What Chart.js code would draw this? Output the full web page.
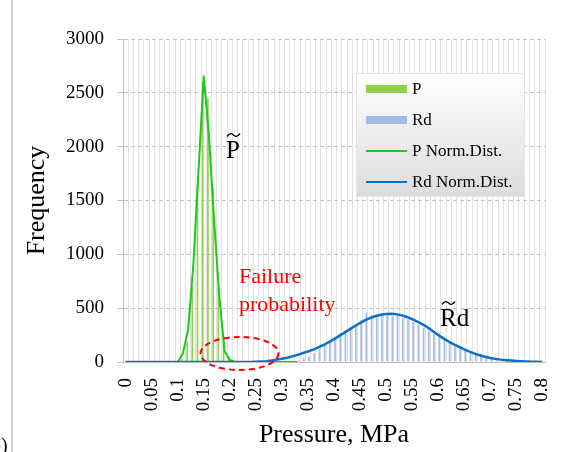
<!DOCTYPE html>
<html>
<head>
<meta charset="utf-8">
<script src="https://cdn.jsdelivr.net/npm/chart.js@4.4.1/dist/chart.umd.min.js"></script>
<style>
  html, body { margin: 0; padding: 0; background: #fff; }
  #pressureChart { display: block; }
</style>
</head>
<body>
<canvas id="pressureChart" width="571" height="452"></canvas>
<script>
// pressure bins, MPa
const categories = [
  '0', '0.01', '0.02', '0.03', '0.04', '0.05', '0.06', '0.07', '0.08', '0.09',
  '0.1', '0.11', '0.12', '0.13', '0.14', '0.15', '0.16', '0.17', '0.18', '0.19',
  '0.2', '0.21', '0.22', '0.23', '0.24', '0.25', '0.26', '0.27', '0.28', '0.29',
  '0.3', '0.31', '0.32', '0.33', '0.34', '0.35', '0.36', '0.37', '0.38', '0.39',
  '0.4', '0.41', '0.42', '0.43', '0.44', '0.45', '0.46', '0.47', '0.48', '0.49',
  '0.5', '0.51', '0.52', '0.53', '0.54', '0.55', '0.56', '0.57', '0.58', '0.59',
  '0.6', '0.61', '0.62', '0.63', '0.64', '0.65', '0.66', '0.67', '0.68', '0.69',
  '0.7', '0.71', '0.72', '0.73', '0.74', '0.75', '0.76', '0.77', '0.78', '0.79',
  '0.8'
];

// only these get a label on the x axis
const tickLabels = ['0', '0.05', '0.1', '0.15', '0.2', '0.25', '0.3', '0.35', '0.4',
  '0.45', '0.5', '0.55', '0.6', '0.65', '0.7', '0.75', '0.8'];

const pBars = [
  0, 0, 0, 0, 0, 0, 0, 0, 0, 0,
  0, 30, 190, 700, 1660, 2600, 2450, 1620, 700, 200,
  30, 0, 0, 0, 0, 0, 0, 0, 0, 0,
  0, 0, 0, 0, 0, 0, 0, 0, 0, 0,
  0, 0, 0, 0, 0, 0, 0, 0, 0, 0,
  0, 0, 0, 0, 0, 0, 0, 0, 0, 0,
  0, 0, 0, 0, 0, 0, 0, 0, 0, 0,
  0, 0, 0, 0, 0, 0, 0, 0, 0, 0,
  0
];

const rdBars = [
  0, 0, 0, 0, 0, 0, 0, 0, 0, 0,
  0, 0, 0, 0, 0, 0, 0, 0, 0, 0,
  0, 0, 0, 0, 0, 0, 0, 0, 0, 0,
  5, 8, 12, 19, 34, 49, 86, 118, 158, 189,
  211, 266, 282, 322, 344, 390, 458, 440, 437, 440,
  432, 425, 427, 410, 395, 372, 345, 318, 290, 262,
  266, 220, 189, 158, 127, 111, 86, 74, 65, 49,
  43, 34, 28, 25, 19, 12, 9, 6, 3, 0,
  0
];

const pNorm = [
  0, 0, 0, 0, 0, 0, 0, 0, 0, 0,
  0, 80, 300, 900, 1780, 2660, 2100, 1300, 600, 100,
  20, 0, 0, 0, 0, 0, 0, 0, 0, 0,
  0, 0, 0, 0, null, null, null, null, null, null,
  null, null, null, null, null, null, null, null, null, null,
  null, null, null, null, null, null, null, null, null, null,
  null, null, null, null, null, null, null, null, null, null,
  null, null, null, null, null, null, null, null, null, null,
  null
];

const rdNorm = [
  0, 0, 0, 0, 0, 0, 0, 0, 0, 0,
  0, 0, 0, 0, 0, 0, 0, 0, 0, 0,
  0, 0, 0, 0, 0, 3, 5, 8, 14, 22,
  30, 40, 52, 66, 82, 98, 115, 135, 158, 185,
  213, 243, 273, 303, 334, 362, 388, 410, 427, 439,
  446, 447, 443, 433, 418, 399, 376, 350, 320, 285,
  250, 220, 190, 163, 140, 117, 96, 78, 62, 48,
  37, 29, 22, 17, 13, 10, 7, 5, 3, 2,
  1
];

const yTicks = [0, 500, 1000, 1500, 2000, 2500, 3000];

const SERIF = "'Liberation Serif', 'Times New Roman', serif";

// legend box drawn inside the plot, like the spreadsheet one
const insideLegend = {
  id: 'insideLegend',
  afterDraw(chart) {
    const ctx = chart.ctx;
    const x0 = 356, y0 = 73, w = 169, h = 124;
    ctx.save();
    const grad = ctx.createLinearGradient(0, y0, 0, y0 + h);
    grad.addColorStop(0, '#ffffff');
    grad.addColorStop(1, '#dcdcdc');
    ctx.fillStyle = grad;
    ctx.fillRect(x0, y0, w, h);
    ctx.strokeStyle = '#e4e4e4';
    ctx.lineWidth = 1;
    ctx.strokeRect(x0 + 0.5, y0 + 0.5, w - 1, h - 1);

    const rows = [1, 3, 2, 0]; // P, Rd, P line, Rd line (dataset index)
    ctx.font = '17px ' + SERIF;
    ctx.textBaseline = 'middle';
    rows.forEach((di, i) => {
      const ds = chart.data.datasets[di];
      const cy = y0 + 16 + i * 31;
      if (ds.type === 'bar') {
        ctx.fillStyle = ds.backgroundColor;
        ctx.fillRect(366, cy - 4, 41, 8);
      } else {
        ctx.strokeStyle = ds.borderColor;
        ctx.lineWidth = 2;
        ctx.beginPath();
        ctx.moveTo(366, cy);
        ctx.lineTo(407, cy);
        ctx.stroke();
      }
      ctx.fillStyle = '#000';
      ctx.fillText(ds.label, 412, cy + 1);
    });
    ctx.restore();
  }
};

function tilde(ctx, x, y, w) {
  ctx.beginPath();
  ctx.moveTo(x, y + 1.5);
  ctx.bezierCurveTo(x + w * 0.25, y - 3, x + w * 0.4, y - 1, x + w * 0.5, y);
  ctx.bezierCurveTo(x + w * 0.6, y + 1, x + w * 0.75, y + 3, x + w, y - 1.5);
  ctx.stroke();
}

// tilde labels, the failure note and its dashed ellipse
const notes = {
  id: 'notes',
  afterDraw(chart) {
    const ctx = chart.ctx;
    ctx.save();
    ctx.fillStyle = '#000';
    ctx.strokeStyle = '#000';
    ctx.lineWidth = 1.3;
    ctx.textBaseline = 'alphabetic';
    ctx.font = '25px ' + SERIF;
    ctx.fillText('P', 226, 158);
    tilde(ctx, 227, 135, 13);
    ctx.fillText('Rd', 440, 326);
    tilde(ctx, 442, 303, 13);

    ctx.fillStyle = '#ff0000';
    ctx.font = '22px ' + SERIF;
    ctx.fillText('Failure', 239, 283);
    ctx.fillText('probability', 239, 311);

    ctx.strokeStyle = '#ff0000';
    ctx.lineWidth = 2;
    ctx.setLineDash([6, 4]);
    ctx.beginPath();
    ctx.ellipse(239.5, 353.5, 39, 16.5, 0, 0, Math.PI * 2);
    ctx.stroke();
    ctx.setLineDash([]);

    // frame edge and the cut "b)" label at the left
    ctx.strokeStyle = '#d0d0d0';
    ctx.lineWidth = 2;
    ctx.beginPath();
    ctx.moveTo(12, 0);
    ctx.lineTo(12, 452);
    ctx.stroke();
    ctx.fillStyle = '#000';
    ctx.font = '20px ' + SERIF;
    ctx.fillText('b)', -9, 452);
    ctx.restore();
  }
};

document.addEventListener('DOMContentLoaded', () => {
  try {
    const ctx = document.getElementById('pressureChart')?.getContext('2d');
    if (!ctx) throw new Error('Chart canvas not found.');

    new Chart(ctx, {
      data: {
        labels: categories,
        datasets: [
          {
            type: 'line',
            label: 'Rd Norm.Dist.',
            data: rdNorm,
            borderColor: '#0a70c8',
            borderWidth: 2.5,
            pointRadius: 0,
            tension: 0,
            order: 0
          },
          {
            type: 'bar',
            label: 'P',
            data: pBars,
            backgroundColor: '#92d050',
            categoryPercentage: 0.8,
            barPercentage: 0.8,
            order: 2
          },
          {
            type: 'line',
            label: 'P Norm.Dist.',
            data: pNorm,
            borderColor: '#1ec81e',
            borderWidth: 2,
            pointRadius: 0,
            tension: 0,
            order: 1
          },
          {
            type: 'bar',
            label: 'Rd',
            data: rdBars,
            backgroundColor: '#a3bbe6',
            categoryPercentage: 0.8,
            barPercentage: 0.8,
            order: 3
          }
        ]
      },
      options: {
        responsive: false,
        animation: false,
        devicePixelRatio: 1,
        layout: { padding: { left: 14, right: 26, top: 39, bottom: 0 } },
        plugins: {
          legend: { display: false },
          tooltip: { enabled: false }
        },
        scales: {
          x: {
            type: 'category',
            offset: true,
            grid: {
              display: true,
              offset: true,
              color: '#e2e2e2',
              lineWidth: 1,
              drawTicks: false
            },
            border: { display: true, color: '#bfbfbf', width: 1 },
            ticks: {
              autoSkip: false,
              minRotation: 90,
              maxRotation: 90,
              padding: 16,
              color: '#000',
              font: { family: SERIF, size: 19 },
              callback(value) {
                const lab = categories[value];
                return tickLabels.includes(lab) ? lab : '';
              }
            },
            title: {
              display: true,
              text: 'Pressure, MPa',
              color: '#000',
              font: { family: SERIF, size: 26 },
              padding: { top: 0, bottom: 1 }
            },
            afterFit(scale) {
              scale.height = 90;
              // keep the plot width of the original
              scale.paddingLeft = 0;
              scale.paddingRight = 0;
            }
          },
          y: {
            min: 0,
            max: 3000,
            afterBuildTicks(scale) {
              scale.ticks = yTicks.map(v => ({ value: v }));
            },
            grid: {
              color: '#c4c4c4',
              lineWidth: 1,
              tickLength: 6
            },
            border: { display: true, color: '#bfbfbf', width: 1, dash: [4, 3] },
            ticks: {
              padding: 13,
              color: '#000',
              font: { family: SERIF, size: 19 },
              callback: (value) => String(value)
            },
            title: {
              display: true,
              text: 'Frequency',
              color: '#000',
              font: { family: SERIF, size: 26 },
              padding: { top: 8, bottom: 0 }
            },
            afterFit(scale) { scale.width = 109; }
          }
        }
      },
      plugins: [insideLegend, notes]
    });
  } catch (err) {
    console.error('Error rendering pressure chart:', err);
  }
});
</script>
</body>
</html>
